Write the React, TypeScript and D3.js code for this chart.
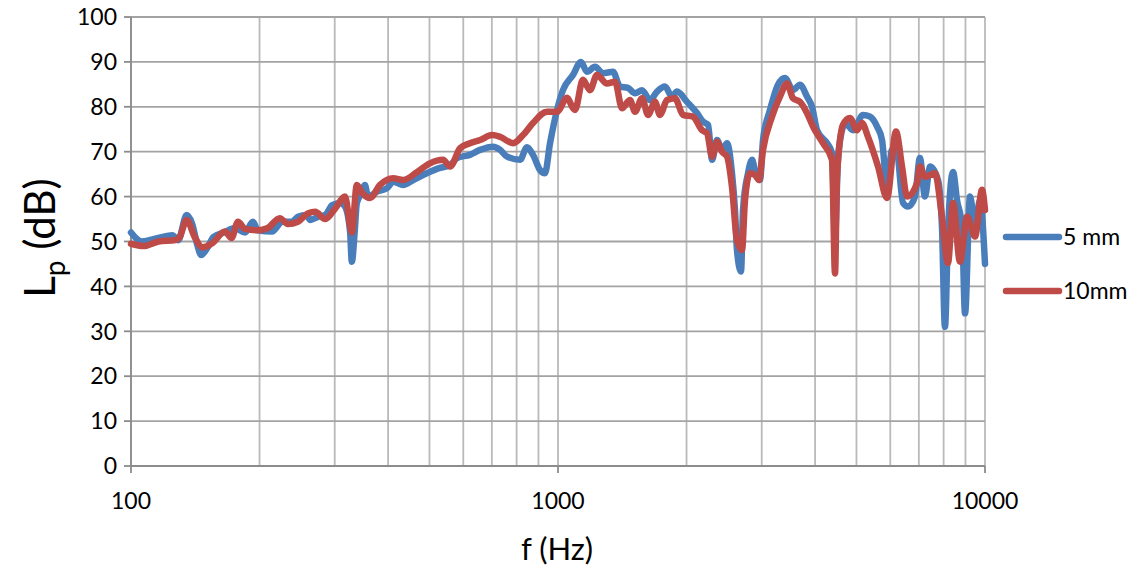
import React from "react";
import * as d3 from "d3";

const yTicks = [0, 10, 20, 30, 40, 50, 60, 70, 80, 90, 100];
const xLabelTicks = [100, 1000, 10000];
const xGridTicks = [100, 200, 300, 400, 500, 600, 700, 800, 900, 1000, 2000, 3000, 4000, 5000, 6000, 7000, 8000, 9000, 10000];

const seriesNames = ["5 mm", "10mm"];
const seriesColors = ["#4A7EBB", "#BE4B48"];

const freq5 = [100, 106, 116, 125, 129, 135, 139, 143, 146, 151, 156, 166, 175, 185, 193, 198, 214, 226, 238, 246, 258, 263, 274, 285, 296, 309, 317, 326, 329, 334, 338, 347, 353, 359, 377, 398, 411, 434, 458, 493, 529, 559, 580, 622, 657, 705, 732, 760, 815, 846, 874, 908, 932, 958, 995, 1027, 1084, 1132, 1169, 1221, 1275, 1345, 1397, 1458, 1515, 1573, 1642, 1706, 1781, 1849, 1900, 2005, 2116, 2186, 2246, 2295, 2357, 2421, 2488, 2555, 2597, 2625, 2683, 2712, 2786, 2847, 2893, 2972, 3021, 3137, 3275, 3401, 3551, 3687, 3829, 3934, 4042, 4266, 4382, 4454, 4526, 4650, 4700, 4908, 5179, 5379, 5587, 5739, 5896, 6057, 6222, 6427, 6603, 6857, 7040, 7235, 7432, 7759, 7929, 8058, 8190, 8416, 8599, 8835, 8979, 9224, 9476, 9735, 10000];
const val5 = [52, 50, 50.8, 51.4, 50.3, 55.9, 54, 49.2, 47, 48.6, 51, 52.1, 53, 52, 54.4, 52.5, 52.2, 54.4, 54.4, 55.5, 55.9, 54.8, 55.5, 55.9, 58.1, 58.6, 57.8, 52, 45.5, 52, 58.6, 60.8, 62.6, 60, 61.1, 61.9, 63.3, 62.6, 63.7, 65.2, 66.4, 67, 68.6, 69.3, 70.4, 71.1, 70.4, 68.9, 68.2, 71, 69.3, 65.9, 65.2, 71.9, 79.3, 83.7, 87.1, 90, 87.8, 88.9, 87.5, 87.8, 84.5, 84.2, 83, 83.7, 81.5, 83.4, 84.5, 82.3, 83.4, 81.1, 78.6, 76.7, 76, 68.2, 72.6, 70.4, 71.9, 65.3, 57, 48.1, 43.3, 57, 65.2, 68.2, 65.9, 63.7, 72.6, 79.3, 84.9, 86.4, 83.7, 84.9, 82.3, 80, 74.8, 71.9, 69.7, 51, 68.2, 75.6, 76.4, 74.8, 78.2, 77.8, 75.6, 72.6, 62.2, 70.4, 69.7, 58.6, 57.8, 60, 68.6, 60, 66.7, 63.7, 53.3, 31, 51.9, 65.5, 59.2, 53.3, 34, 60, 53.3, 59.2, 45];

const freq10 = [100, 107, 116, 127, 130, 135, 141, 147, 155, 166, 172, 178, 185, 198, 209, 223, 233, 246, 260, 270, 285, 301, 317, 329, 338, 348, 363, 383, 411, 434, 468, 501, 538, 559, 590, 622, 657, 701, 732, 785, 828, 874, 943, 995, 1050, 1084, 1096, 1144, 1188, 1234, 1302, 1360, 1412, 1474, 1515, 1573, 1625, 1687, 1733, 1800, 1879, 1962, 2071, 2174, 2234, 2295, 2357, 2421, 2488, 2555, 2625, 2697, 2741, 2816, 2893, 2956, 3021, 3171, 3311, 3438, 3551, 3687, 3829, 3955, 4175, 4382, 4454, 4502, 4650, 4829, 5014, 5151, 5321, 5617, 5896, 6188, 6392, 6567, 6930, 7040, 7235, 7635, 7929, 8190, 8416, 8739, 9076, 9476, 9840, 10000];
const val10 = [49.5, 49, 50, 50.3, 51, 54.8, 51, 48.7, 49.6, 52.2, 50.8, 54.4, 52.8, 52.5, 53, 55.2, 53.9, 54.4, 56.3, 56.6, 55, 57.4, 60, 52, 62.6, 60.8, 59.7, 62.6, 64.1, 63.7, 65.5, 67.4, 68.2, 66.7, 70.8, 71.9, 72.6, 73.7, 73.3, 71.9, 73.7, 76.4, 78.9, 78.9, 82, 79.7, 79.3, 86, 83.7, 87.1, 85.2, 85.6, 79.7, 81.5, 78.9, 81.9, 78.2, 81.1, 78.2, 81.5, 81.9, 78.2, 77.8, 74.8, 74.1, 68.9, 72.2, 70, 68.9, 62.2, 50.3, 48.1, 59.2, 65.2, 64.8, 63.7, 70.4, 77.8, 82.3, 85.2, 81.9, 81.1, 78.6, 75.6, 71.9, 68.2, 42.9, 64.4, 76, 77.5, 74.8, 76.4, 73.3, 66.7, 59.7, 74.5, 66.7, 60, 63, 66.7, 64.4, 65.2, 55.5, 45.2, 58.6, 45.5, 55.5, 51.1, 61.5, 57];

const W = 1144;
const H = 568;
const left = 131;
const right = 985;
const top = 17;
const bottom = 466;
const FONT = "Lato, 'Open Sans', sans-serif";

export default function App() {
  const x = d3.scaleLog().domain([100, 10000]).range([left, right]);
  const y = d3.scaleLinear().domain([0, 100]).range([bottom, top]);
  const line = d3
    .line<[number, number]>()
    .x((d) => x(d[0]))
    .y((d) => y(d[1]))
    .curve(d3.curveMonotoneX);
  const s5: [number, number][] = freq5.map((f, i) => [f, val5[i]]);
  const s10: [number, number][] = freq10.map((f, i) => [f, val10[i]]);
  const series = [s5, s10];

  return (
    <svg
      width={W}
      height={H}
      style={{ position: "absolute", left: 0, top: 0, background: "#fff" }}
      fontFamily={FONT}
    >
      <rect x={0} y={0} width={W} height={H} fill="#fff" />
      {xGridTicks.map((t) => (
        <line key={"vx" + t} x1={x(t)} x2={x(t)} y1={top} y2={bottom} stroke="#BABABA" strokeWidth={1.8} />
      ))}
      {yTicks.map((t) => (
        <line key={"hy" + t} x1={left} x2={right} y1={y(t)} y2={y(t)} stroke="#A3A3A3" strokeWidth={1.8} />
      ))}
      <line x1={left} x2={left} y1={top} y2={bottom} stroke="#8C8C8C" strokeWidth={1.8} />
      <line x1={left} x2={right} y1={bottom} y2={bottom} stroke="#8C8C8C" strokeWidth={1.8} />
      {yTicks.map((t) => (
        <g key={"yt" + t}>
          <line x1={left - 7} x2={left} y1={y(t)} y2={y(t)} stroke="#8C8C8C" strokeWidth={1.8} />
          <text x={left - 14} y={y(t)} dy="0.36em" textAnchor="end" fontSize={23} fill="#000">
            {t}
          </text>
        </g>
      ))}
      {xLabelTicks.map((t) => (
        <g key={"xt" + t}>
          <line x1={x(t)} x2={x(t)} y1={bottom} y2={bottom + 7} stroke="#8C8C8C" strokeWidth={1.8} />
          <text x={x(t)} y={501} dy="0.36em" textAnchor="middle" fontSize={23} fill="#000">
            {t}
          </text>
        </g>
      ))}
      {series.map((s, i) => (
        <path
          key={"s" + i}
          d={line(s) || ""}
          fill="none"
          stroke={seriesColors[i]}
          strokeWidth={6.5}
          strokeLinejoin="round"
          strokeLinecap="round"
        />
      ))}
      <text x={557} y={549} dy="0.36em" textAnchor="middle" fontSize={31} fill="#000">
        f (Hz)
      </text>
      <text transform="translate(40,238) rotate(-90)" textAnchor="middle" dy="0.36em" fontSize={42} fill="#000">
        L<tspan fontSize={28} dy="10">p</tspan>
        <tspan dy="-10"> (dB)</tspan>
      </text>
      {seriesNames.map((n, i) => (
        <g key={"lg" + i}>
          <line
            x1={1006}
            x2={1059}
            y1={237 + i * 54}
            y2={237 + i * 54}
            stroke={seriesColors[i]}
            strokeWidth={6.5}
            strokeLinecap="round"
          />
          <text x={1063} y={237 + i * 54} dy="0.36em" fontSize={23} fill="#000">
            {n}
          </text>
        </g>
      ))}
    </svg>
  );
}
